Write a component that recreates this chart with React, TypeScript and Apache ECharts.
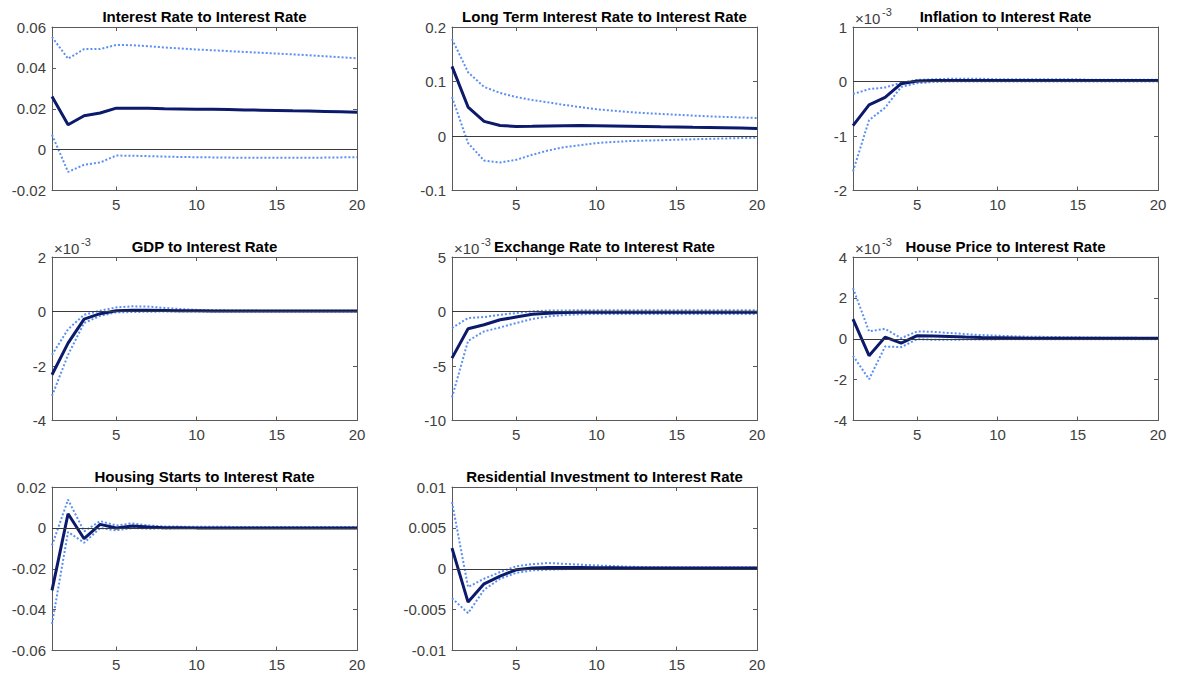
import React, { useEffect, useRef } from "react";
import * as echarts from "echarts";

// Horizon (periods)
const STEPS = [1, 2, 3, 4, 5, 6, 7, 8, 9, 10, 11, 12, 13, 14, 15, 16, 17, 18, 19, 20];
const X_TICKS = [5, 10, 15, 20];

const TITLES = [
  "Interest Rate to Interest Rate",
  "Long Term Interest Rate to Interest Rate",
  "Inflation to Interest Rate",
  "GDP to Interest Rate",
  "Exchange Rate to Interest Rate",
  "House Price to Interest Rate",
  "Housing Starts to Interest Rate",
  "Residential Investment to Interest Rate",
];

// Panels with "×10^-3" multiplier (values stored in those units)
const EXP_PANELS = [false, false, true, true, true, true, false, false];

// y-axis ranges
const Y_MIN = [-0.02, -0.1, -2, -4, -10, -4, -0.06, -0.01];
const Y_MAX = [0.06, 0.2, 1, 2, 5, 4, 0.02, 0.01];
const Y_STEP = [0.02, 0.1, 1, 2, 5, 2, 0.02, 0.005];

// 1. Interest Rate
const irMain = [0.026, 0.0122, 0.0166, 0.0179, 0.0203, 0.0203, 0.0202, 0.02, 0.0199, 0.0198, 0.0197, 0.0196, 0.0194, 0.0193, 0.0192, 0.019, 0.0189, 0.0187, 0.0185, 0.0183];
const irUp = [0.0551, 0.0445, 0.0492, 0.0492, 0.0512, 0.0511, 0.0506, 0.05, 0.0495, 0.049, 0.0486, 0.0482, 0.0478, 0.0474, 0.047, 0.0466, 0.0462, 0.0457, 0.0452, 0.0447];
const irLo = [0.0073, -0.0109, -0.0074, -0.0063, -0.0029, -0.003, -0.0032, -0.0034, -0.0036, -0.0037, -0.0038, -0.0039, -0.004, -0.004, -0.004, -0.004, -0.004, -0.0039, -0.0038, -0.0037];

// 2. Long Term Interest Rate
const ltMain = [0.1278, 0.0531, 0.0268, 0.0194, 0.0176, 0.018, 0.0185, 0.019, 0.0194, 0.019, 0.0185, 0.018, 0.0175, 0.017, 0.0166, 0.016, 0.0155, 0.015, 0.0145, 0.0139];
const ltUp = [0.178, 0.117, 0.09, 0.079, 0.0715, 0.066, 0.0617, 0.057, 0.053, 0.049, 0.0465, 0.044, 0.042, 0.0405, 0.039, 0.0375, 0.036, 0.035, 0.034, 0.033];
const ltLo = [0.0715, -0.013, -0.045, -0.0486, -0.0437, -0.0345, -0.0265, -0.0204, -0.0167, -0.013, -0.011, -0.0094, -0.0085, -0.0077, -0.0069, -0.006, -0.0052, -0.0045, -0.0038, -0.0032];

// 3. Inflation (×10^-3)
const infMain = [-0.81, -0.43, -0.29, -0.04, 0.01, 0.02, 0.02, 0.02, 0.02, 0.02, 0.02, 0.02, 0.02, 0.02, 0.02, 0.02, 0.02, 0.02, 0.02, 0.02];
const infUp = [-0.23, -0.14, -0.11, -0.02, 0.03, 0.04, 0.05, 0.05, 0.05, 0.04, 0.04, 0.04, 0.04, 0.04, 0.04, 0.03, 0.03, 0.03, 0.03, 0.03];
const infLo = [-1.65, -0.71, -0.48, -0.1, -0.03, -0.01, 0, 0, 0, 0, 0, 0, 0, 0, 0, 0, 0, 0, 0, 0];

// 4. GDP (×10^-3)
const gdpMain = [-2.32, -1.16, -0.28, -0.08, 0.03, 0.05, 0.05, 0.04, 0.03, 0.03, 0.02, 0.02, 0.02, 0.02, 0.02, 0.02, 0.02, 0.02, 0.02, 0.02];
const gdpUp = [-1.59, -0.65, -0.12, 0.03, 0.15, 0.19, 0.18, 0.13, 0.09, 0.06, 0.05, 0.04, 0.04, 0.03, 0.03, 0.03, 0.03, 0.03, 0.03, 0.03];
const gdpLo = [-3.1, -1.59, -0.42, -0.16, -0.03, -0.02, -0.01, 0, 0, 0, 0, 0, 0, 0, 0, 0, 0, 0, 0, 0];

// 5. Exchange Rate (×10^-3)
const fxMain = [-4.28, -1.58, -1.22, -0.76, -0.51, -0.26, -0.16, -0.1, -0.08, -0.07, -0.07, -0.07, -0.07, -0.07, -0.07, -0.07, -0.07, -0.07, -0.07, -0.07];
const fxUp = [-1.52, -0.6, -0.51, -0.3, -0.14, 0.02, 0.08, 0.1, 0.11, 0.12, 0.12, 0.12, 0.12, 0.12, 0.12, 0.12, 0.12, 0.12, 0.12, 0.12];
const fxLo = [-7.89, -2.69, -1.83, -1.46, -1.06, -0.69, -0.45, -0.32, -0.25, -0.22, -0.22, -0.22, -0.22, -0.22, -0.22, -0.22, -0.22, -0.22, -0.22, -0.22];

// 6. House Price (×10^-3)
const hpMain = [0.96, -0.83, 0.08, -0.21, 0.15, 0.13, 0.11, 0.08, 0.06, 0.05, 0.04, 0.03, 0.03, 0.02, 0.02, 0.02, 0.02, 0.02, 0.02, 0.02];
const hpUp = [2.48, 0.36, 0.49, 0.03, 0.36, 0.34, 0.28, 0.23, 0.18, 0.15, 0.12, 0.1, 0.09, 0.08, 0.07, 0.06, 0.05, 0.05, 0.04, 0.04];
const hpLo = [-0.83, -1.98, -0.38, -0.41, -0.02, -0.05, -0.05, -0.04, -0.04, -0.03, -0.03, -0.03, -0.03, -0.02, -0.02, -0.02, -0.02, -0.02, -0.02, -0.02];

// 7. Housing Starts
const hsMain = [-0.0306, 0.0069, -0.0053, 0.0017, -0.0001, 0.0009, 0.0004, 0.0001, 0.0001, 0, 0, 0, 0, 0, 0, 0, 0, 0, 0, 0];
const hsUp = [-0.0086, 0.0138, -0.0017, 0.0033, 0.0012, 0.0022, 0.0012, 0.0007, 0.0006, 0.0006, 0.0005, 0.0005, 0.0004, 0.0004, 0.0004, 0.0004, 0.0004, 0.0004, 0.0004, 0.0004];
const hsLo = [-0.047, -0.002, -0.0073, -0.0001, -0.0012, -0.0001, -0.0004, -0.0003, -0.0002, -0.0002, -0.0002, -0.0002, -0.0002, -0.0002, -0.0002, -0.0002, -0.0002, -0.0002, -0.0002, -0.0002];

// 8. Residential Investment
const riMain = [0.00253, -0.00408, -0.00184, -0.0009, -0.00012, 0.0001, 0.00016, 0.00016, 0.00014, 0.00012, 0.00011, 0.0001, 0.0001, 0.0001, 0.0001, 0.0001, 0.0001, 0.0001, 0.0001, 0.0001];
const riUp = [0.00816, -0.00224, -0.00122, -0.0004, 0.0003, 0.00057, 0.0007, 0.0006, 0.0005, 0.0004, 0.00033, 0.00025, 0.0002, 0.00018, 0.00016, 0.00015, 0.00015, 0.00014, 0.00014, 0.00014];
const riLo = [-0.0036, -0.00543, -0.00257, -0.00122, -0.0005, -0.0002, -0.0001, -0.00005, 0, 0, 0, 0, 0, 0, 0, 0, 0, 0, 0, 0];

const MAINS = [irMain, ltMain, infMain, gdpMain, fxMain, hpMain, hsMain, riMain];
const UPPERS = [irUp, ltUp, infUp, gdpUp, fxUp, hpUp, hsUp, riUp];
const LOWERS = [irLo, ltLo, infLo, gdpLo, fxLo, hpLo, hsLo, riLo];

const COL_LEFT = [52, 452, 853];
const ROW_TOP = [27, 257, 487];
const PW = 305;
const PH = 163.5;

const FONT = "'Liberation Sans', Arial, Helvetica, sans-serif";
const AXIS_COLOR = "#5a5a5a";
const TEXT_COLOR = "#404040";
const MAIN_COLOR = "#0c1a6c";
const BAND_COLOR = "#5b90f0";

export default function App() {
  const ref = useRef<HTMLDivElement>(null);

  useEffect(() => {
    document.body.style.margin = "0";
    if (!ref.current) return;
    const chart = echarts.init(ref.current, undefined, { renderer: "svg" });

    const grids: any[] = [];
    const xAxes: any[] = [];
    const yAxes: any[] = [];
    const series: any[] = [];
    const graphics: any[] = [];

    const lineStyle = { color: AXIS_COLOR, width: 1 };

    TITLES.forEach((title, i) => {
      const left = COL_LEFT[i % 3];
      const top = ROW_TOP[Math.floor(i / 3)];
      grids.push({ left, top, width: PW, height: PH, containLabel: false });

      const xBase = {
        gridIndex: i,
        type: "value",
        min: 1,
        max: 20,
        splitLine: { show: false },
        axisLine: { show: true, onZero: false, lineStyle },
        axisTick: { show: true, inside: true, length: 4, customValues: X_TICKS, lineStyle },
      };
      xAxes.push({
        ...xBase,
        position: "bottom",
        axisLabel: { customValues: X_TICKS, color: TEXT_COLOR, fontSize: 15, fontFamily: FONT, margin: 6 },
      });
      xAxes.push({ ...xBase, position: "top", axisLabel: { show: false } });

      const yBase = {
        gridIndex: i,
        type: "value",
        min: Y_MIN[i],
        max: Y_MAX[i],
        interval: Y_STEP[i],
        splitLine: { show: false },
        axisLine: { show: true, onZero: false, lineStyle },
        axisTick: { show: true, inside: true, length: 4, lineStyle },
      };
      yAxes.push({
        ...yBase,
        position: "left",
        axisLabel: { color: TEXT_COLOR, fontSize: 15, fontFamily: FONT, margin: 6 },
      });
      yAxes.push({ ...yBase, position: "right", axisLabel: { show: false } });

      const xi = i * 2;
      const yi = i * 2;
      const toPairs = (arr: number[]) => STEPS.map((s, k) => [s, arr[k]]);

      series.push({
        type: "line",
        xAxisIndex: xi,
        yAxisIndex: yi,
        data: toPairs(UPPERS[i]),
        symbol: "none",
        lineStyle: { color: BAND_COLOR, width: 2, type: [2, 2] },
        silent: true,
        markLine: {
          silent: true,
          symbol: "none",
          label: { show: false },
          lineStyle: { color: "#3a3a3a", width: 1, type: "solid" },
          data: [{ yAxis: 0 }],
        },
        z: 2,
      });
      series.push({
        type: "line",
        xAxisIndex: xi,
        yAxisIndex: yi,
        data: toPairs(LOWERS[i]),
        symbol: "none",
        lineStyle: { color: BAND_COLOR, width: 2, type: [2, 2] },
        silent: true,
        z: 2,
      });
      series.push({
        type: "line",
        xAxisIndex: xi,
        yAxisIndex: yi,
        data: toPairs(MAINS[i]),
        symbol: "none",
        lineStyle: { color: MAIN_COLOR, width: 3 },
        silent: true,
        z: 3,
      });

      graphics.push({
        type: "text",
        x: left + PW / 2,
        y: top - 10.5,
        style: {
          text: title,
          fill: "#000",
          font: `bold 15px ${FONT}`,
          textAlign: "center",
          textVerticalAlign: "middle",
        },
      });

      if (EXP_PANELS[i]) {
        graphics.push({
          type: "text",
          x: left + 2,
          y: top - 9,
          style: {
            text: "×10",
            fill: TEXT_COLOR,
            font: `15px ${FONT}`,
            textAlign: "left",
            textVerticalAlign: "middle",
          },
        });
        graphics.push({
          type: "text",
          x: left + 29,
          y: top - 15,
          style: {
            text: "-3",
            fill: TEXT_COLOR,
            font: `11px ${FONT}`,
            textAlign: "left",
            textVerticalAlign: "middle",
          },
        });
      }
    });

    chart.setOption({
      animation: false,
      backgroundColor: "#ffffff",
      grid: grids,
      xAxis: xAxes,
      yAxis: yAxes,
      series,
      graphic: graphics,
    });

    return () => chart.dispose();
  }, []);

  return <div ref={ref} style={{ width: 1177, height: 675 }} />;
}
